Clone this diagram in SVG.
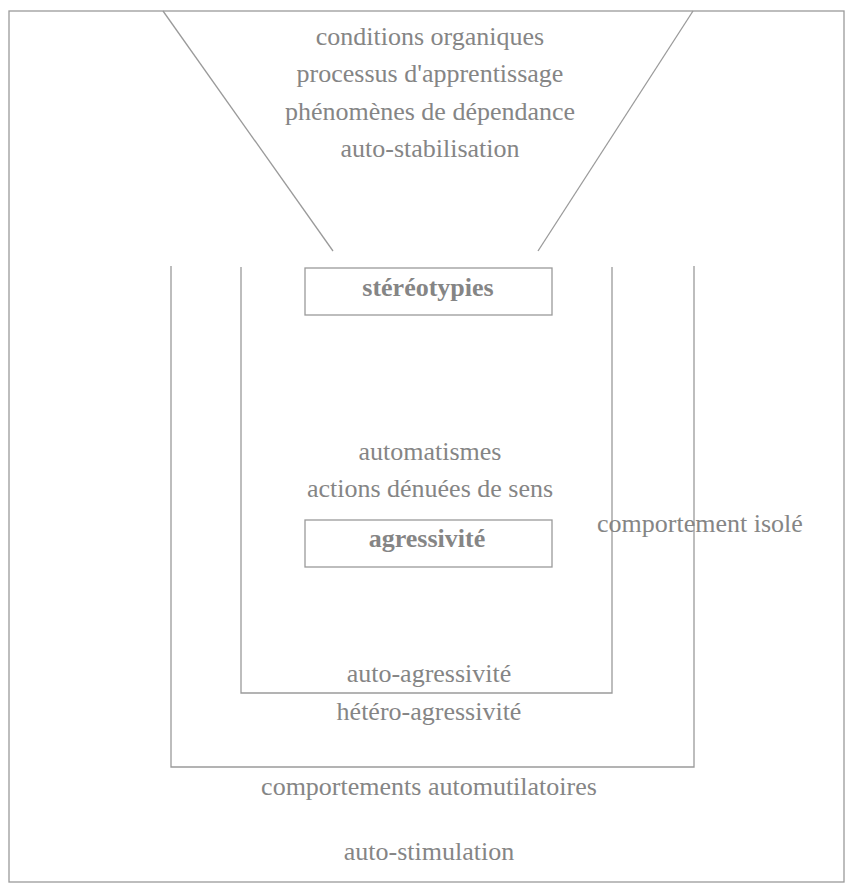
<svg xmlns="http://www.w3.org/2000/svg" width="846" height="884" viewBox="0 0 846 884">
<style>
.ln{fill:none;stroke:#9a9a9a;stroke-width:1.3}
.t{font-family:"Liberation Serif","Times New Roman",serif;font-size:26px;fill:#858585;text-anchor:middle}
.b{font-weight:bold}
.s{text-anchor:start}
</style>
<rect width="846" height="884" fill="#ffffff"/>
<g id="frame"><rect class="ln" x="9" y="11" width="835" height="871"/></g>
<g id="connectors">
<line class="ln" x1="163" y1="11" x2="333" y2="251"/>
<line class="ln" x1="693" y1="11" x2="538" y2="251"/>
<polyline class="ln" points="171,266 171,767 694,767 694,266"/>
<polyline class="ln" points="241,267 241,693 612,693 612,267"/>
</g>
<g id="factors">
<text class="t" x="430" y="45">conditions organiques</text>
<text class="t" x="430" y="82">processus d'apprentissage</text>
<text class="t" x="430" y="120">phénomènes de dépendance</text>
<text class="t" x="430" y="157">auto-stabilisation</text>
</g>
<g id="stereotypies">
<rect class="ln" x="305" y="268" width="247" height="47"/>
<text class="t b" x="428" y="296">stéréotypies</text>
</g>
<g id="automatismes">
<text class="t" x="430" y="460">automatismes</text>
<text class="t" x="430" y="497">actions dénuées de sens</text>
</g>
<g id="agressivite">
<rect class="ln" x="305" y="520" width="247" height="47"/>
<text class="t b" x="427" y="547">agressivité</text>
</g>
<g id="isole"><text class="t s" x="597" y="532">comportement isolé</text></g>
<g id="auto-agressivite"><text class="t" x="429" y="682">auto-agressivité</text></g>
<g id="hetero-agressivite"><text class="t" x="429" y="720">hétéro-agressivité</text></g>
<g id="automutilatoires"><text class="t" x="429" y="795">comportements automutilatoires</text></g>
<g id="auto-stimulation"><text class="t" x="429" y="860">auto-stimulation</text></g>
</svg>
